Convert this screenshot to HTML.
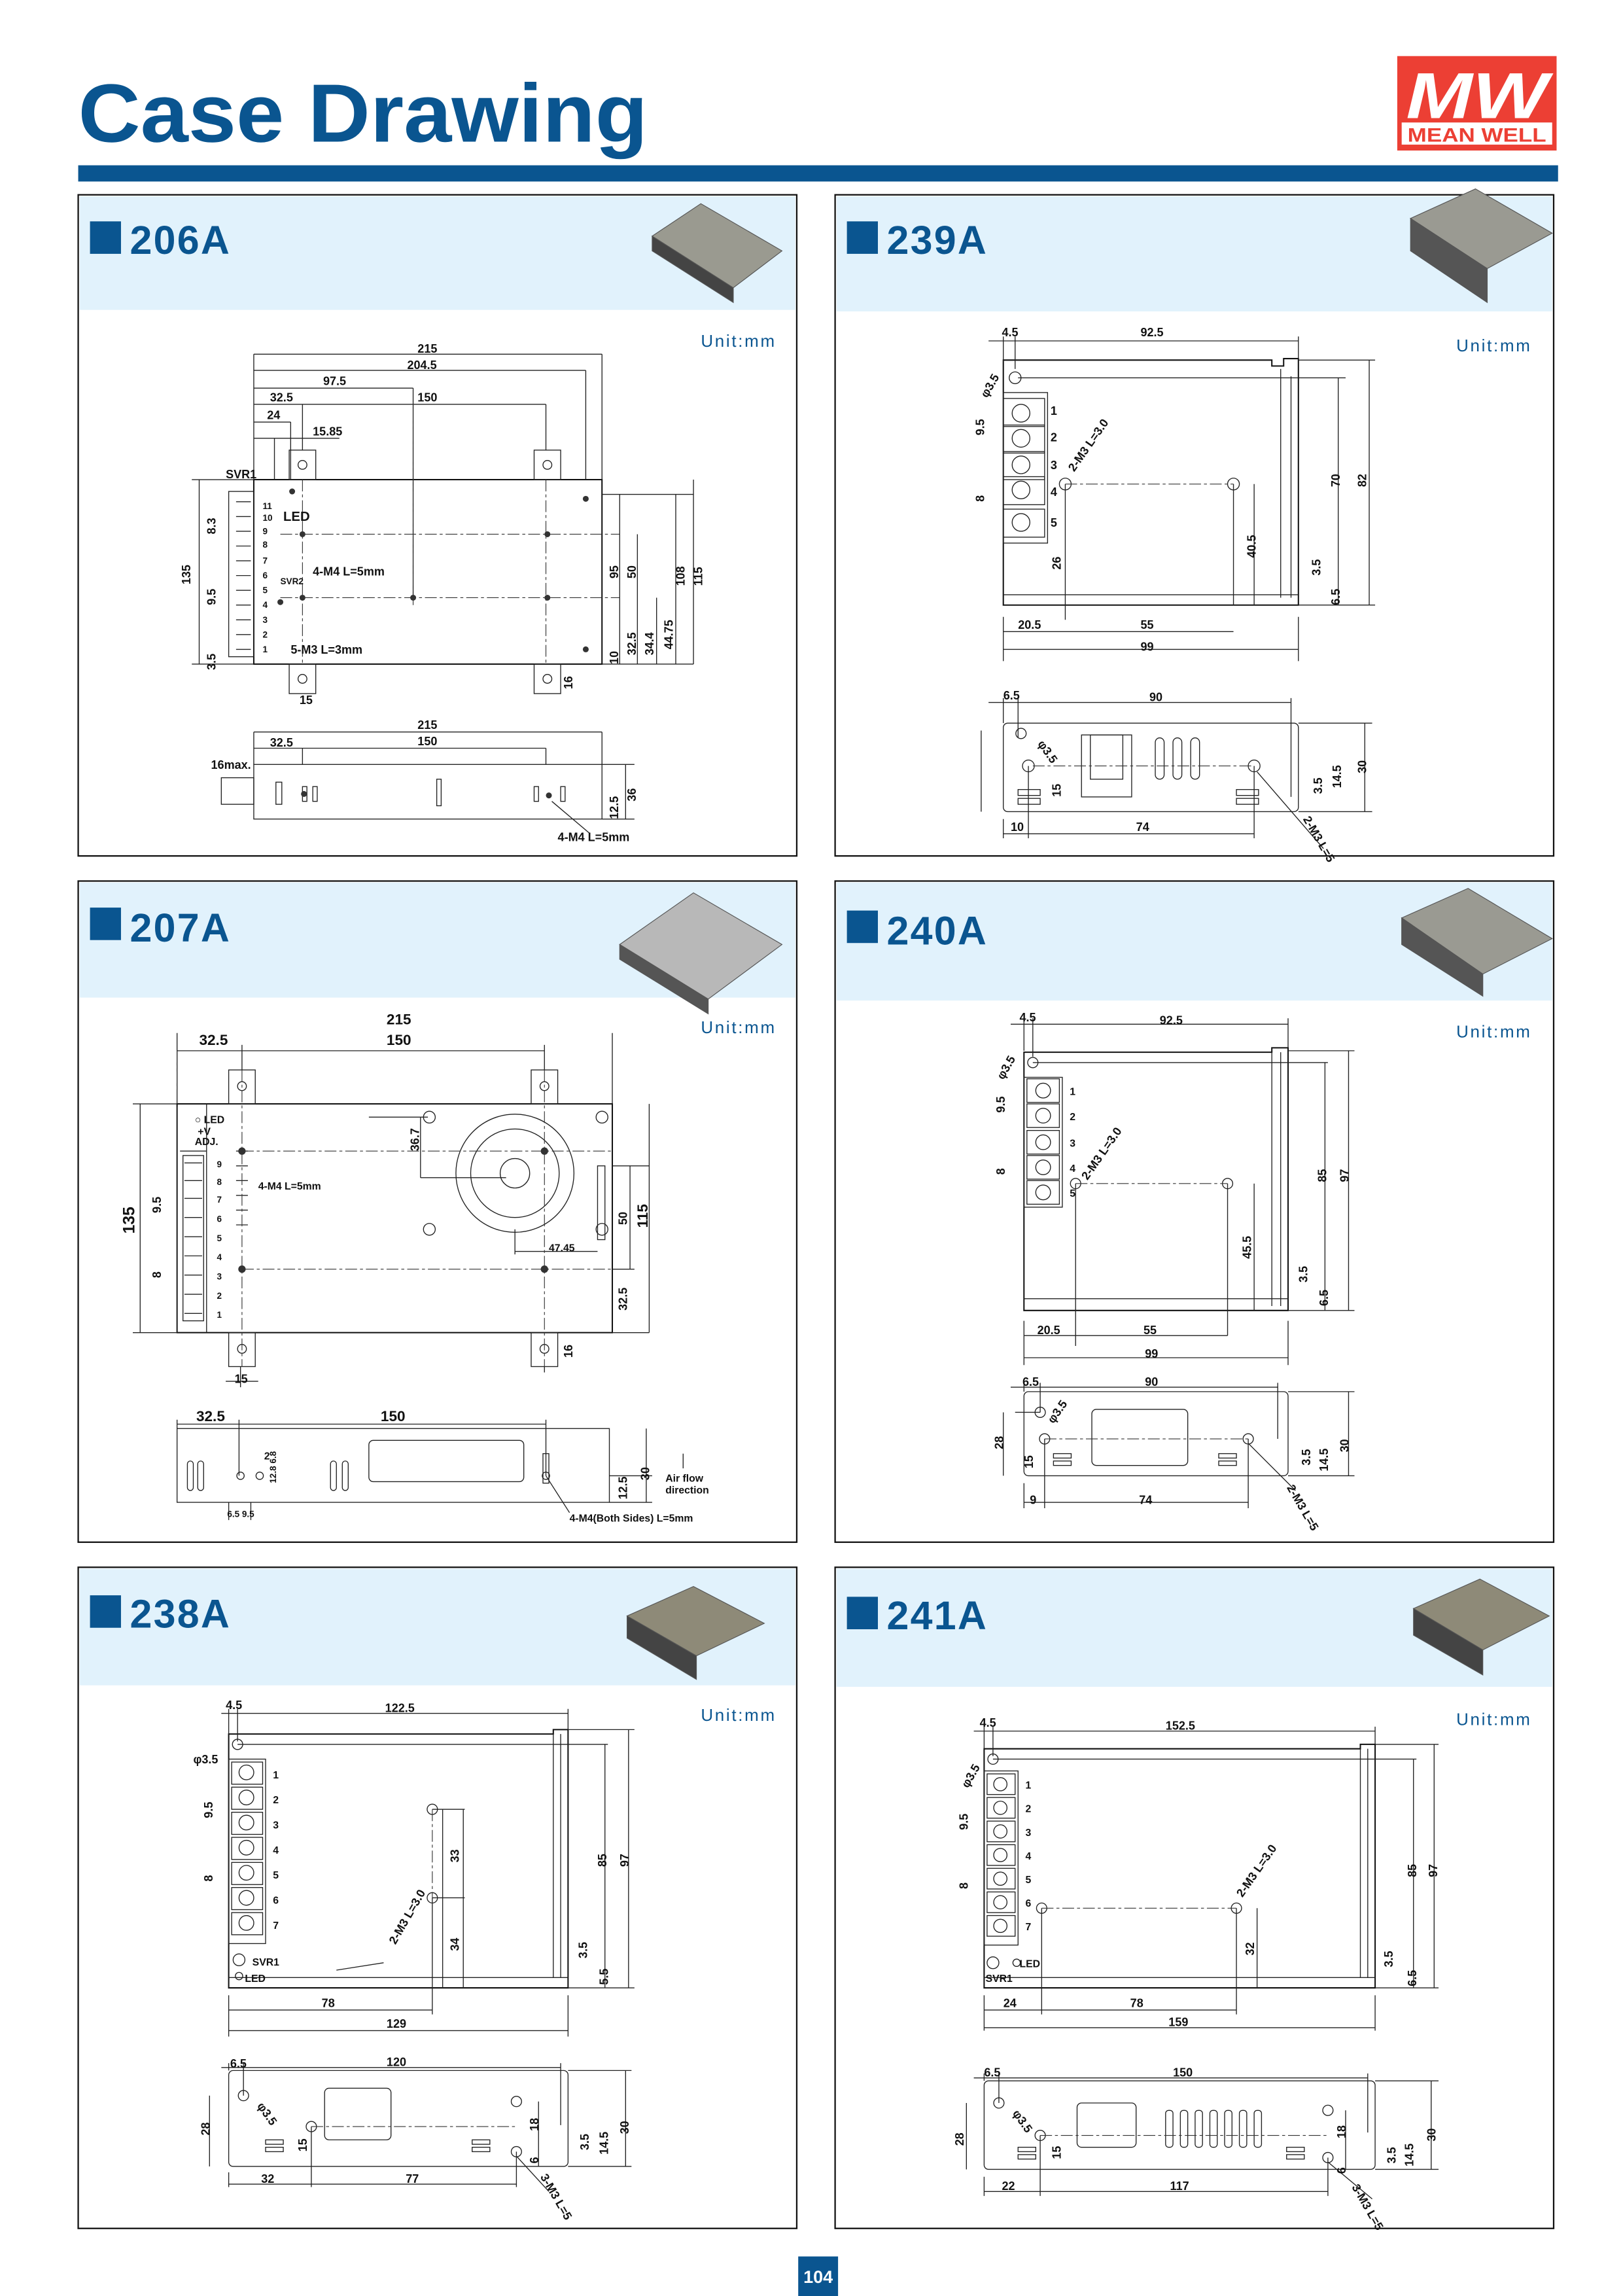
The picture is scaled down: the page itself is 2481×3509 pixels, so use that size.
<!DOCTYPE html>
<html><head><meta charset="utf-8"><style>
html,body{margin:0;padding:0;background:#fff}
svg{display:block}
.l{stroke:#222;stroke-width:.6;fill:none}
.b{stroke:#111;stroke-width:.9;fill:#fff}
.d{stroke:#333;stroke-width:.5;stroke-dasharray:8 2 2 2;fill:none}
.t{font-family:"Liberation Sans Narrow","Liberation Sans",sans-serif;font-weight:bold;font-size:8px;fill:#111}
.h{font-family:"Liberation Sans",sans-serif;font-weight:bold;font-size:27px;fill:#0a5590;letter-spacing:1px}
.u{font-family:"Liberation Sans",sans-serif;font-size:11.5px;fill:#0a5590;letter-spacing:1.2px}
.p{fill:#fff;stroke:#111;stroke-width:1}
.hd{fill:#e1f2fc}
</style></head><body>
<svg width="2481" height="3509" viewBox="0 0 1100 1555.8" xmlns="http://www.w3.org/2000/svg">
<text x="53" y="96" font-family="Liberation Sans,sans-serif" font-weight="bold" font-size="56" fill="#0a5590" textLength="386" lengthAdjust="spacingAndGlyphs">Case Drawing</text>
<rect x="947" y="38" width="108" height="64" fill="#ec3f34"/>
<text x="1001" y="80" text-anchor="middle" font-family="Liberation Sans,sans-serif" font-style="italic" font-weight="bold" font-size="44" fill="#fff" textLength="96" lengthAdjust="spacingAndGlyphs">MW</text>
<rect x="950" y="83" width="102" height="15" fill="#fff"/>
<text x="1001" y="96" text-anchor="middle" font-family="Liberation Sans,sans-serif" font-weight="bold" font-size="13" fill="#ec3f34" textLength="94" lengthAdjust="spacingAndGlyphs">MEAN WELL</text>
<rect x="53" y="112" width="1003" height="11" fill="#0a5590"/>

<!-- panels -->
<g>
<rect class="p" x="53" y="132" width="487" height="448"/>
<rect class="hd" x="54" y="133" width="485" height="77"/>
<rect class="p" x="566" y="132" width="487" height="448"/>
<rect class="hd" x="567" y="133" width="485" height="78"/>
<rect class="p" x="53" y="597" width="487" height="448"/>
<rect class="hd" x="54" y="598" width="485" height="78"/>
<rect class="p" x="566" y="597" width="487" height="448"/>
<rect class="hd" x="567" y="598" width="485" height="80"/>
<rect class="p" x="53" y="1062" width="487" height="448"/>
<rect class="hd" x="54" y="1063" width="485" height="79"/>
<rect class="p" x="566" y="1062" width="487" height="448"/>
<rect class="hd" x="567" y="1063" width="485" height="80"/>
</g>
<g fill="#0a5590">
<rect x="61" y="150" width="21" height="22"/><text class="h" x="88" y="172">206A</text>
<rect x="574" y="150" width="21" height="22"/><text class="h" x="601" y="172">239A</text>
<rect x="61" y="615" width="21" height="22"/><text class="h" x="88" y="638">207A</text>
<rect x="574" y="617" width="21" height="22"/><text class="h" x="601" y="640">240A</text>
<rect x="61" y="1081" width="21" height="22"/><text class="h" x="88" y="1103">238A</text>
<rect x="574" y="1082" width="21" height="22"/><text class="h" x="601" y="1104">241A</text>
</g>
<!-- product photos -->
<g stroke="#555" stroke-width=".5">
<polygon points="442,160 475,138 530,170 497,195" fill="#9a9a90"/><polygon points="442,160 497,195 497,205 442,170" fill="#444"/>
<polygon points="956,148 1000,128 1052,158 1008,182" fill="#9a9a92"/><polygon points="956,148 1008,182 1008,205 956,170" fill="#555"/>
<polygon points="420,640 470,605 530,640 480,677" fill="#b8b8b8"/><polygon points="420,640 480,677 480,687 420,650" fill="#555"/>
<polygon points="950,622 995,602 1052,636 1005,660" fill="#9a9a92"/><polygon points="950,622 1005,660 1005,675 950,640" fill="#555"/>
<polygon points="425,1095 470,1075 518,1100 472,1122" fill="#8e8a78"/><polygon points="425,1095 472,1122 472,1138 425,1110" fill="#444"/>
<polygon points="958,1090 1003,1070 1050,1095 1005,1118" fill="#8e8a78"/><polygon points="958,1090 1005,1118 1005,1135 958,1108" fill="#444"/>
</g>
<g class="u"><text x="475" y="235">Unit:mm</text><text x="987" y="238">Unit:mm</text><text x="475" y="700">Unit:mm</text><text x="987" y="703">Unit:mm</text><text x="475" y="1166">Unit:mm</text><text x="987" y="1169">Unit:mm</text></g>

<!-- 206A -->
<g>
<rect class="b" x="172" y="325" width="236" height="125"/>
<rect class="l" x="155" y="333" width="17" height="112"/>
<g class="l"><rect x="196" y="305" width="18" height="20"/><rect x="362" y="305" width="18" height="20"/><rect x="196" y="450" width="18" height="20"/><rect x="362" y="450" width="18" height="20"/>
<circle cx="205" cy="315" r="3"/><circle cx="371" cy="315" r="3"/><circle cx="205" cy="460" r="3"/><circle cx="371" cy="460" r="3"/>
<path d="M172 240V325M408 240V325M397 251V325M280 263V405M205 274V305M370 274V305M197 286V325M186 297V325"/>
<path d="M172 240H408M172 251H397M172 263H280M172 274H370M172 286H197M172 297H230"/>
<path d="M408 335H470M408 450H470M420 335V450M432 362V450M445 405V450M458 335V450M470 325V450"/>
<path d="M130 325H172M130 450H172M135 325V450"/>
<path d="M160 340h10M160 350h10M160 360h10M160 370h10M160 380h10M160 390h10M160 400h10M160 410h10M160 420h10M160 430h10M160 440h10"/>
<rect x="172" y="518" width="236" height="37"/><rect x="150" y="527" width="22" height="18"/>
<path d="M172 496V518M408 496V518M205 507V518M370 507V518M172 496H408M172 507H370M408 518H430M408 555H430M424 518V555"/>
<rect x="187" y="530" width="4" height="15"/><rect x="205" y="533" width="3" height="10"/><rect x="212" y="533" width="3" height="10"/><rect x="296" y="528" width="3" height="18"/><rect x="362" y="533" width="3" height="10"/><rect x="380" y="533" width="3" height="10"/>
<path d="M374 543L400 565"/>
</g>
<path class="d" d="M190 362H420M190 405H420M205 325V450M370 325V450M280 263V410"/>
<g fill="#333"><circle cx="205" cy="362" r="2"/><circle cx="371" cy="362" r="2"/><circle cx="205" cy="405" r="2"/><circle cx="371" cy="405" r="2"/><circle cx="280" cy="405" r="2"/><circle cx="198" cy="333" r="2"/><circle cx="397" cy="338" r="2"/><circle cx="397" cy="440" r="2"/><circle cx="190" cy="408" r="2"/><circle cx="372" cy="539" r="2"/><circle cx="206" cy="538" r="2"/></g>
<g class="t"><text x="283" y="239">215</text><text x="276" y="250">204.5</text><text x="219" y="261">97.5</text><text x="183" y="272">32.5</text><text x="283" y="272">150</text><text x="181" y="284">24</text><text x="212" y="295">15.85</text>
<text x="153" y="324">SVR1</text><text x="192" y="353" font-size="9">LED</text><text x="212" y="390">4-M4 L=5mm</text><text x="190" y="396" font-size="6">SVR2</text><text x="197" y="443">5-M3 L=3mm</text><text x="203" y="477">15</text>
<text x="178" y="345" font-size="6">11</text><text x="178" y="353" font-size="6">10</text><text x="178" y="362" font-size="6">9</text><text x="178" y="371" font-size="6">8</text><text x="178" y="382" font-size="6">7</text><text x="178" y="392" font-size="6">6</text><text x="178" y="402" font-size="6">5</text><text x="178" y="412" font-size="6">4</text><text x="178" y="422" font-size="6">3</text><text x="178" y="432" font-size="6">2</text><text x="178" y="442" font-size="6">1</text>
<text x="283" y="494">215</text><text x="283" y="505">150</text><text x="183" y="506">32.5</text><text x="143" y="521">16max.</text><text x="378" y="570">4-M4 L=5mm</text>
<text transform="translate(129,396) rotate(-90)">135</text><text transform="translate(146,362) rotate(-90)">8.3</text><text transform="translate(146,410) rotate(-90)">9.5</text><text transform="translate(146,454) rotate(-90)">3.5</text>
<text transform="translate(419,392) rotate(-90)">95</text><text transform="translate(431,392) rotate(-90)">50</text><text transform="translate(464,397) rotate(-90)">108</text><text transform="translate(476,397) rotate(-90)">115</text><text transform="translate(419,450) rotate(-90)">10</text><text transform="translate(431,444) rotate(-90)">32.5</text><text transform="translate(443,444) rotate(-90)">34.4</text><text transform="translate(456,440) rotate(-90)">44.75</text><text transform="translate(388,467) rotate(-90)">16</text>
<text transform="translate(419,555) rotate(-90)">12.5</text><text transform="translate(431,543) rotate(-90)">36</text></g>
</g>

<!-- 239A -->
<g>
<path class="b" d="M680 244H862V248H870V243H880V410H680Z"/>
<path class="l" d="M868 250V405M875 255V405M680 403H880"/>
<rect class="l" x="680" y="266" width="30" height="102"/>
<g class="l"><rect x="680" y="270" width="28" height="19"/><rect x="680" y="288" width="28" height="19"/><rect x="680" y="306" width="28" height="19"/><rect x="680" y="323" width="28" height="19"/><rect x="680" y="345" width="28" height="19"/>
<circle cx="692" cy="280" r="6"/><circle cx="692" cy="297" r="6"/><circle cx="692" cy="315" r="6"/><circle cx="692" cy="332" r="6"/><circle cx="692" cy="354" r="6"/>
<circle cx="688" cy="256" r="4"/><circle cx="722" cy="328" r="4"/><circle cx="836" cy="328" r="4"/>
<path d="M680 228V245M688 228V250M880 228V244M670 231H880M880 244H932M690 256H912M880 410H932M907 256V410M928 244V410M836 328V410M722 328V420M680 418V448M880 418V448M680 428H836M680 440H880M850 328V410"/>
<rect x="680" y="490" width="200" height="60" rx="3"/><rect x="733" y="498" width="34" height="42"/><rect x="739" y="498" width="22" height="30"/>
<rect x="783" y="500" width="6" height="28" rx="3"/><rect x="795" y="500" width="6" height="28" rx="3"/><rect x="807" y="500" width="6" height="28" rx="3"/>
<circle cx="692" cy="497" r="3.5"/><circle cx="697" cy="519" r="4"/><circle cx="850" cy="519" r="4"/>
<path d="M680 473V490M690 473V500M875 473V540M670 476H875M880 490H930M880 550H930M925 490V550M680 555V568M697 519V568M850 519V568M680 565H850M665 495V550M852 523L897 575M697 535V550"/>
<rect x="690" y="535" width="15" height="4"/><rect x="690" y="541" width="15" height="4"/><rect x="838" y="535" width="15" height="4"/><rect x="838" y="541" width="15" height="4"/>
</g>
<path class="d" d="M722 328H836M700 519H850"/>
<g class="t"><text x="679" y="228">4.5</text><text x="773" y="228">92.5</text><text x="712" y="281">1</text><text x="712" y="299">2</text><text x="712" y="318">3</text><text x="712" y="336">4</text><text x="712" y="357">5</text>
<text x="690" y="426">20.5</text><text x="773" y="426">55</text><text x="773" y="441">99</text><text x="680" y="474">6.5</text><text x="779" y="475">90</text><text x="685" y="563">10</text><text x="770" y="563">74</text>
<text transform="translate(669,270) rotate(-60)">φ3.5</text><text transform="translate(728,320) rotate(-55)">2-M3 L=3.0</text><text transform="translate(703,504) rotate(55)">φ3.5</text><text transform="translate(883,555) rotate(60)">2-M3 L=5</text>
<text transform="translate(667,295) rotate(-90)">9.5</text><text transform="translate(667,340) rotate(-90)">8</text><text transform="translate(719,386) rotate(-90)">26</text><text transform="translate(851,378) rotate(-90)">40.5</text><text transform="translate(908,330) rotate(-90)">70</text><text transform="translate(926,330) rotate(-90)">82</text><text transform="translate(895,390) rotate(-90)">3.5</text><text transform="translate(908,410) rotate(-90)">6.5</text>
<text transform="translate(719,540) rotate(-90)">15</text><text transform="translate(896,538) rotate(-90)">3.5</text><text transform="translate(909,534) rotate(-90)">14.5</text><text transform="translate(926,524) rotate(-90)">30</text></g>
</g>

<!-- 207A -->
<g>
<rect class="b" x="120" y="748" width="295" height="155"/>
<g class="l"><path d="M120 750V903M140 748V903M122 780H140"/>
<rect x="155" y="725" width="18" height="23"/><rect x="360" y="725" width="18" height="23"/><rect x="155" y="903" width="18" height="23"/><rect x="360" y="903" width="18" height="23"/>
<circle cx="164" cy="736" r="3"/><circle cx="369" cy="736" r="3"/><circle cx="164" cy="914" r="3"/><circle cx="369" cy="914" r="3"/>
<rect x="124" y="783" width="14" height="112"/>
<path d="M125 788h12M125 800h12M125 812h12M125 825h12M125 838h12M125 851h12M125 864h12M125 877h12M125 890h12"/>
<circle cx="349" cy="795" r="40"/><circle cx="349" cy="795" r="30"/><circle cx="349" cy="795" r="10"/>
<circle cx="291" cy="757" r="4"/><circle cx="408" cy="757" r="4"/><circle cx="291" cy="833" r="4"/><circle cx="408" cy="833" r="4"/>
<rect x="405" y="790" width="5" height="50"/>
<path d="M120 700V748M415 700V748M120 712H164M164 712H369M164 708V725M369 708V725M90 748H120M90 903H120M95 748V903M415 790H440M415 903H440M427 790V860M440 748V903M415 860H430M369 926V930M349 833V850M349 848H405M163 926V940M153 936H175M285 757V798M250 757H290M285 798H343"/>
<path d="M160 780h8M160 790h8M160 800h8M160 810h8M160 820h8M160 830h8"/>
<rect x="120" y="968" width="293" height="50"/><rect x="250" y="976" width="105" height="28" rx="3"/>
<rect x="127" y="990" width="4" height="20" rx="2"/><rect x="134" y="990" width="4" height="20" rx="2"/><rect x="224" y="990" width="4" height="20" rx="2"/><rect x="232" y="990" width="4" height="20" rx="2"/><rect x="368" y="985" width="4" height="20"/>
<path d="M120 962V968M162 962V1000M370 962V1000M120 965H370M413 1000H442M413 1018H442M438 968V1018M370 1000L386 1025M155 1018V1030M170 1018V1030M463 985V995"/>
<circle cx="163" cy="1000" r="2.5"/><circle cx="176" cy="1000" r="2.5"/><circle cx="370" cy="1000" r="2.5"/></g>
<path class="d" d="M164 780H415M164 860H415M164 725V926M369 725V926M120 712V740"/>
<g fill="#333"><circle cx="164" cy="780" r="2.5"/><circle cx="369" cy="780" r="2.5"/><circle cx="164" cy="860" r="2.5"/><circle cx="369" cy="860" r="2.5"/></g>
<g class="t"><text x="262" y="694" font-size="10">215</text><text x="135" y="708" font-size="10">32.5</text><text x="262" y="708" font-size="10">150</text>
<text x="132" y="761" font-size="7">○ LED</text><text x="134" y="769" font-size="7">+V</text><text x="132" y="776" font-size="7">ADJ.</text>
<text x="147" y="791" font-size="6">9</text><text x="147" y="803" font-size="6">8</text><text x="147" y="815" font-size="6">7</text><text x="147" y="828" font-size="6">6</text><text x="147" y="841" font-size="6">5</text><text x="147" y="854" font-size="6">4</text><text x="147" y="867" font-size="6">3</text><text x="147" y="880" font-size="6">2</text><text x="147" y="893" font-size="6">1</text>
<text x="175" y="806" font-size="7">4-M4 L=5mm</text><text x="372" y="848" font-size="7">47.45</text><text x="159" y="937">15</text>
<text x="133" y="963" font-size="10">32.5</text><text x="258" y="963" font-size="10">150</text><text x="451" y="1004" font-size="7">Air flow</text><text x="451" y="1012" font-size="7">direction</text><text x="386" y="1031" font-size="7">4-M4(Both Sides) L=5mm</text><text x="154" y="1028" font-size="6">6.5 9.5</text><text x="179" y="989" font-size="7">2</text>
<text transform="translate(91,836) rotate(-90)" font-size="11">135</text><text transform="translate(109,822) rotate(-90)">9.5</text><text transform="translate(109,866) rotate(-90)">8</text><text transform="translate(284,780) rotate(-90)">36.7</text><text transform="translate(425,830) rotate(-90)">50</text><text transform="translate(439,832) rotate(-90)" font-size="10">115</text><text transform="translate(425,888) rotate(-90)">32.5</text><text transform="translate(388,920) rotate(-90)">16</text><text transform="translate(425,1016) rotate(-90)">12.5</text><text transform="translate(440,1003) rotate(-90)">30</text><text transform="translate(187,1005) rotate(-90)" font-size="6">12.8 6.8</text></g>
</g>

<!-- 240A -->
<g>
<path class="b" d="M694 713H862V710H873V888H694Z"/>
<path class="l" d="M862 713V885M868 713V885M694 880H873"/>
<rect class="l" x="694" y="730" width="26" height="88"/>
<g class="l"><rect x="696" y="731" width="22" height="16"/><rect x="696" y="748" width="22" height="16"/><rect x="696" y="766" width="22" height="16"/><rect x="696" y="783" width="22" height="16"/><rect x="696" y="800" width="22" height="16"/>
<circle cx="707" cy="739" r="5"/><circle cx="707" cy="756" r="5"/><circle cx="707" cy="774" r="5"/><circle cx="707" cy="791" r="5"/><circle cx="707" cy="808" r="5"/><circle cx="700" cy="720" r="3.5"/><circle cx="729" cy="802" r="3.5"/><circle cx="832" cy="802" r="3.5"/>
<path d="M694 690V712M700 690V716M873 690V710M685 694H873M873 712H918M873 888H918M700 720H900M898 720V888M914 712V888M729 802V912M832 802V905M850 802V888M694 895V925M873 895V925M694 905H832M694 920H873"/>
<rect x="694" y="943" width="179" height="57" rx="3"/><rect x="740" y="955" width="65" height="38" rx="3"/>
<circle cx="705" cy="957" r="3.5"/><circle cx="708" cy="975" r="3.5"/><circle cx="846" cy="975" r="3.5"/>
<path d="M694 937V943M705 937V957M866 937V975M685 940H866M873 943H918M873 1000H918M914 943V1000M694 1005V1022M708 975V1022M846 975V1022M694 1018H846M680 957V1000M846 978L878 1010M688 957H705"/>
<rect x="714" y="985" width="12" height="3"/><rect x="714" y="990" width="12" height="3"/><rect x="826" y="985" width="12" height="3"/><rect x="826" y="990" width="12" height="3"/></g>
<path class="d" d="M729 802H832M708 975H846"/>
<g class="t"><text x="691" y="692">4.5</text><text x="786" y="694">92.5</text><text x="725" y="742" font-size="7">1</text><text x="725" y="759" font-size="7">2</text><text x="725" y="777" font-size="7">3</text><text x="725" y="794" font-size="7">4</text><text x="725" y="811" font-size="7">5</text>
<text x="703" y="904">20.5</text><text x="775" y="904">55</text><text x="776" y="920">99</text><text x="693" y="939">6.5</text><text x="776" y="939">90</text><text x="698" y="1019">9</text><text x="772" y="1019">74</text>
<text transform="translate(680,732) rotate(-60)">φ3.5</text><text transform="translate(737,800) rotate(-55)">2-M3 L=3.0</text><text transform="translate(714,965) rotate(-55)">φ3.5</text><text transform="translate(872,1008) rotate(60)">2-M3 L=5</text>
<text transform="translate(681,754) rotate(-90)">9.5</text><text transform="translate(681,796) rotate(-90)">8</text><text transform="translate(848,853) rotate(-90)">45.5</text><text transform="translate(899,801) rotate(-90)">85</text><text transform="translate(914,801) rotate(-90)">97</text><text transform="translate(886,869) rotate(-90)">3.5</text><text transform="translate(900,885) rotate(-90)">6.5</text>
<text transform="translate(680,982) rotate(-90)">28</text><text transform="translate(700,995) rotate(-90)">15</text><text transform="translate(888,993) rotate(-90)">3.5</text><text transform="translate(900,997) rotate(-90)">14.5</text><text transform="translate(914,984) rotate(-90)">30</text></g>
</g>

<!-- 238A -->
<g>
<path class="b" d="M155 1175H375V1172H385V1347H155Z"/>
<path class="l" d="M375 1175V1340M380 1175V1340M155 1340H385"/>
<rect class="l" x="155" y="1192" width="25" height="125"/>
<g class="l"><rect x="157" y="1194" width="21" height="15"/><rect x="157" y="1211" width="21" height="15"/><rect x="157" y="1228" width="21" height="15"/><rect x="157" y="1245" width="21" height="15"/><rect x="157" y="1262" width="21" height="15"/><rect x="157" y="1279" width="21" height="15"/><rect x="157" y="1296" width="21" height="15"/>
<circle cx="167" cy="1201" r="5"/><circle cx="167" cy="1218" r="5"/><circle cx="167" cy="1235" r="5"/><circle cx="167" cy="1252" r="5"/><circle cx="167" cy="1269" r="5"/><circle cx="167" cy="1286" r="5"/><circle cx="167" cy="1303" r="5"/>
<circle cx="161" cy="1182" r="3.5"/><circle cx="293" cy="1226" r="3.5"/><circle cx="293" cy="1286" r="3.5"/><circle cx="162" cy="1328" r="4"/><circle cx="162" cy="1339" r="2.5"/>
<path d="M155 1158V1175M161 1158V1180M385 1158V1172M150 1161H385M385 1172H430M385 1347H430M161 1182H412M410 1182V1347M426 1172V1347M300 1226V1347M315 1226H293M315 1286H293M314 1226V1347M155 1352V1380M293 1286V1365M385 1352V1380M155 1362H293M155 1376H385M228 1335L260 1330"/>
<rect x="155" y="1403" width="230" height="65" rx="3"/><rect x="220" y="1415" width="45" height="35" rx="3"/>
<circle cx="165" cy="1420" r="3.5"/><circle cx="211" cy="1441" r="3.5"/><circle cx="350" cy="1424" r="3.5"/><circle cx="350" cy="1458" r="3.5"/>
<path d="M155 1398V1403M165 1398V1420M380 1398V1440M150 1401H380M385 1403H428M385 1468H428M424 1403V1468M142 1420V1468M155 1472V1482M211 1441V1482M350 1458V1482M155 1480H350M350 1461L372 1485M365 1424V1468"/>
<rect x="180" y="1450" width="12" height="3"/><rect x="180" y="1455" width="12" height="3"/><rect x="320" y="1450" width="12" height="3"/><rect x="320" y="1455" width="12" height="3"/></g>
<path class="d" d="M211 1441H350M293 1226V1300"/>
<g class="t"><text x="153" y="1158">4.5</text><text x="261" y="1160">122.5</text><text x="131" y="1195">φ3.5</text>
<text x="185" y="1205" font-size="7">1</text><text x="185" y="1222" font-size="7">2</text><text x="185" y="1239" font-size="7">3</text><text x="185" y="1256" font-size="7">4</text><text x="185" y="1273" font-size="7">5</text><text x="185" y="1290" font-size="7">6</text><text x="185" y="1307" font-size="7">7</text>
<text x="171" y="1332" font-size="7">SVR1</text><text x="166" y="1343" font-size="7">LED</text><text x="218" y="1360">78</text><text x="262" y="1374">129</text><text x="156" y="1401">6.5</text><text x="262" y="1400">120</text><text x="177" y="1479">32</text><text x="275" y="1479">77</text>
<text transform="translate(268,1318) rotate(-60)">2-M3 L=3.0</text><text transform="translate(174,1427) rotate(55)">φ3.5</text><text transform="translate(366,1475) rotate(60)">3-M3 L=5</text>
<text transform="translate(144,1232) rotate(-90)">9.5</text><text transform="translate(144,1275) rotate(-90)">8</text><text transform="translate(311,1262) rotate(-90)">33</text><text transform="translate(311,1322) rotate(-90)">34</text><text transform="translate(411,1265) rotate(-90)">85</text><text transform="translate(426,1265) rotate(-90)">97</text><text transform="translate(398,1327) rotate(-90)">3.5</text><text transform="translate(412,1345) rotate(-90)">5.5</text>
<text transform="translate(142,1447) rotate(-90)">28</text><text transform="translate(208,1458) rotate(-90)">15</text><text transform="translate(365,1444) rotate(-90)">18</text><text transform="translate(365,1466) rotate(-90)">6</text><text transform="translate(399,1457) rotate(-90)">3.5</text><text transform="translate(412,1460) rotate(-90)">14.5</text><text transform="translate(426,1446) rotate(-90)">30</text></g>
</g>

<!-- 241A -->
<g>
<path class="b" d="M667 1185H922V1182H932V1347H667Z"/>
<path class="l" d="M922 1185V1340M927 1185V1340M667 1340H932"/>
<rect class="l" x="667" y="1200" width="23" height="118"/>
<g class="l"><rect x="669" y="1202" width="19" height="14"/><rect x="669" y="1218" width="19" height="14"/><rect x="669" y="1234" width="19" height="14"/><rect x="669" y="1250" width="19" height="14"/><rect x="669" y="1266" width="19" height="14"/><rect x="669" y="1282" width="19" height="14"/><rect x="669" y="1298" width="19" height="14"/>
<circle cx="678" cy="1209" r="4.5"/><circle cx="678" cy="1225" r="4.5"/><circle cx="678" cy="1241" r="4.5"/><circle cx="678" cy="1257" r="4.5"/><circle cx="678" cy="1273" r="4.5"/><circle cx="678" cy="1289" r="4.5"/><circle cx="678" cy="1305" r="4.5"/>
<circle cx="673" cy="1192" r="3.5"/><circle cx="706" cy="1293" r="3.5"/><circle cx="838" cy="1293" r="3.5"/><circle cx="673" cy="1330" r="4"/><circle cx="689" cy="1330" r="2.5"/>
<path d="M667 1170V1185M673 1170V1190M932 1170V1182M660 1173H932M932 1182H975M932 1347H975M673 1192H960M958 1192V1347M972 1182V1347M852 1293V1347M667 1352V1376M706 1293V1365M838 1293V1365M932 1352V1376M667 1362H838M667 1374H932"/>
<rect x="667" y="1410" width="265" height="60" rx="3"/><rect x="730" y="1425" width="40" height="30" rx="3"/>
<rect x="790" y="1430" width="5" height="25" rx="2"/><rect x="800" y="1430" width="5" height="25" rx="2"/><rect x="810" y="1430" width="5" height="25" rx="2"/><rect x="820" y="1430" width="5" height="25" rx="2"/><rect x="830" y="1430" width="5" height="25" rx="2"/><rect x="840" y="1430" width="5" height="25" rx="2"/><rect x="850" y="1430" width="5" height="25" rx="2"/>
<circle cx="677" cy="1425" r="3.5"/><circle cx="705" cy="1447" r="3.5"/><circle cx="900" cy="1430" r="3.5"/><circle cx="900" cy="1462" r="3.5"/>
<path d="M667 1405V1410M677 1405V1425M927 1405V1445M660 1408H927M932 1410H975M932 1470H975M970 1410V1470M655 1425V1470M667 1475V1488M705 1447V1488M900 1462V1488M667 1485H900M900 1465L930 1490M912 1430V1470"/>
<rect x="690" y="1455" width="12" height="3"/><rect x="690" y="1460" width="12" height="3"/><rect x="872" y="1455" width="12" height="3"/><rect x="872" y="1460" width="12" height="3"/></g>
<path class="d" d="M706 1293H838M705 1447H900"/>
<g class="t"><text x="664" y="1170">4.5</text><text x="790" y="1172">152.5</text>
<text x="695" y="1212" font-size="7">1</text><text x="695" y="1228" font-size="7">2</text><text x="695" y="1244" font-size="7">3</text><text x="695" y="1260" font-size="7">4</text><text x="695" y="1276" font-size="7">5</text><text x="695" y="1292" font-size="7">6</text><text x="695" y="1308" font-size="7">7</text>
<text x="691" y="1333" font-size="7">LED</text><text x="668" y="1343" font-size="7">SVR1</text><text x="680" y="1360">24</text><text x="766" y="1360">78</text><text x="792" y="1373">159</text><text x="667" y="1407">6.5</text><text x="795" y="1407">150</text><text x="679" y="1484">22</text><text x="793" y="1484">117</text>
<text transform="translate(656,1212) rotate(-60)">φ3.5</text><text transform="translate(842,1286) rotate(-55)">2-M3 L=3.0</text><text transform="translate(686,1432) rotate(55)">φ3.5</text><text transform="translate(916,1482) rotate(60)">3-M3 L=5</text>
<text transform="translate(656,1240) rotate(-90)">9.5</text><text transform="translate(656,1280) rotate(-90)">8</text><text transform="translate(850,1325) rotate(-90)">32</text><text transform="translate(960,1272) rotate(-90)">85</text><text transform="translate(974,1272) rotate(-90)">97</text><text transform="translate(944,1333) rotate(-90)">3.5</text><text transform="translate(960,1346) rotate(-90)">6.5</text>
<text transform="translate(653,1454) rotate(-90)">28</text><text transform="translate(719,1463) rotate(-90)">15</text><text transform="translate(912,1449) rotate(-90)">18</text><text transform="translate(912,1473) rotate(-90)">6</text><text transform="translate(946,1466) rotate(-90)">3.5</text><text transform="translate(958,1468) rotate(-90)">14.5</text><text transform="translate(973,1451) rotate(-90)">30</text></g>
</g>

<rect x="541" y="1529" width="27" height="27" fill="#0a5590"/>
<text x="554.5" y="1547" text-anchor="middle" font-family="Liberation Sans,sans-serif" font-weight="bold" font-size="12" fill="#fff">104</text>
</svg>
</body></html>
